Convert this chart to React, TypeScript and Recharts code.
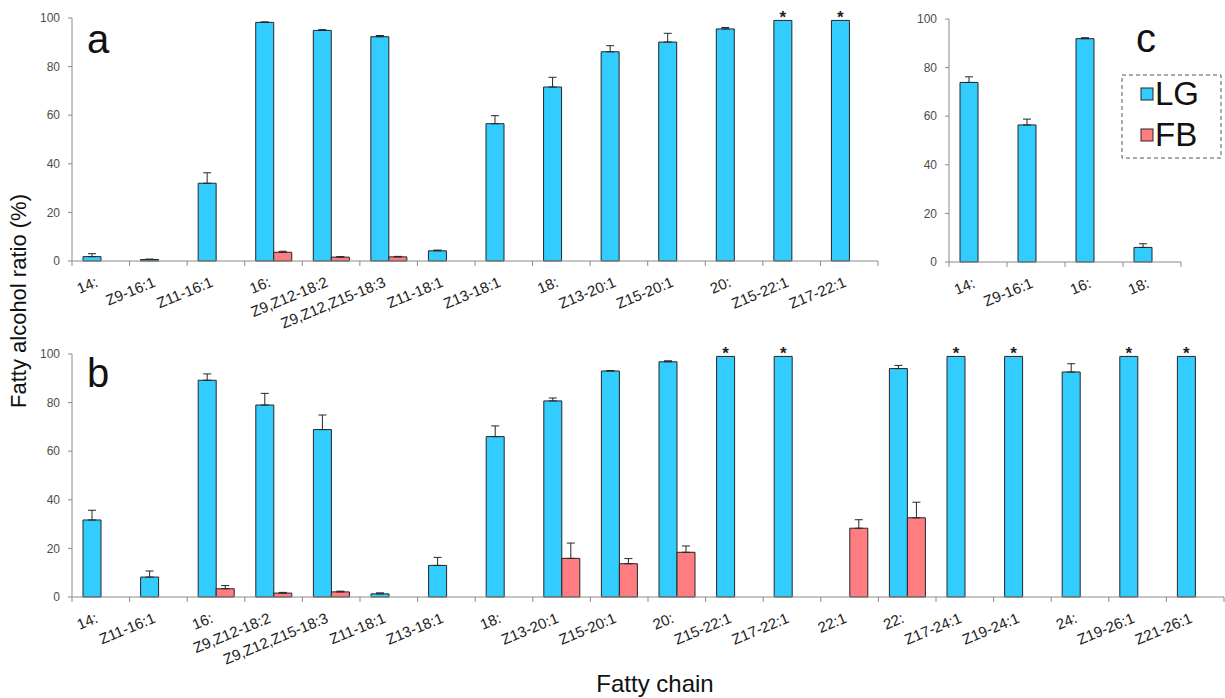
import React from 'react';
import { BarChart, Bar, XAxis, YAxis, ErrorBar, LabelList } from 'recharts';

// panel a
const aCategories = ['14:', 'Z9-16:1', 'Z11-16:1', '16:', 'Z9,Z12-18:2', 'Z9,Z12,Z15-18:3', 'Z11-18:1', 'Z13-18:1', '18:', 'Z13-20:1', 'Z15-20:1', '20:', 'Z15-22:1', 'Z17-22:1'];
const aLG = [1.8, 0.6, 32.0, 98.2, 94.9, 92.3, 4.2, 56.5, 71.6, 86.1, 90.1, 95.5, 99, 99];
const aLGErr = [1.2, 0.2, 4.3, 0.2, 0.3, 0.5, 0.3, 3.3, 4.0, 2.5, 3.6, 0.6, null, null];
const aFB = [null, null, null, 3.6, 1.6, 1.7, null, null, null, null, null, null, null, null];
const aFBErr = [null, null, null, 0.4, 0.2, 0.2, null, null, null, null, null, null, null, null];
const aStarred = ['Z15-22:1', 'Z17-22:1'];

// panel b
const bCategories = ['14:', 'Z11-16:1', '16:', 'Z9,Z12-18:2', 'Z9,Z12,Z15-18:3', 'Z11-18:1', 'Z13-18:1', '18:', 'Z13-20:1', 'Z15-20:1', '20:', 'Z15-22:1', 'Z17-22:1', '22:1', '22:', 'Z17-24:1', 'Z19-24:1', '24:', 'Z19-26:1', 'Z21-26:1'];
const bLG = [31.7, 8.2, 89.2, 79.0, 68.9, 1.3, 13.0, 66.0, 80.7, 93.0, 96.8, 99, 99, null, 94.0, 99, 99, 92.6, 99, 99];
const bLGErr = [4.0, 2.5, 2.6, 4.8, 6.0, 0.4, 3.3, 4.4, 1.2, 0.2, 0.4, null, null, null, 1.3, null, null, 3.4, null, null];
const bFB = [null, null, 3.4, 1.6, 2.1, null, null, null, 15.9, 13.7, 18.4, null, null, 28.3, 32.6, null, null, null, null, null];
const bFBErr = [null, null, 1.3, 0.3, 0.3, null, null, null, 6.3, 2.1, 2.6, null, null, 3.5, 6.4, null, null, null, null, null];
const bStarred = ['Z15-22:1', 'Z17-22:1', 'Z17-24:1', 'Z19-24:1', 'Z19-26:1', 'Z21-26:1'];

// panel c
const cCategories = ['14:', 'Z9-16:1', '16:', '18:'];
const cLG = [73.9, 56.4, 91.9, 6.0];
const cLGErr = [2.3, 2.4, 0.4, 1.5];

const yTicks = [0, 20, 40, 60, 80, 100];

const LG_COLOR = '#33CCFF';
const FB_COLOR = '#FF7C80';
const AXIS = '#8a8a8a';
const FONT = 'Arial, "Liberation Sans", sans-serif';

const toRows = (
  cats: string[],
  lg: (number | null)[],
  lgErr: (number | null)[],
  fb: (number | null)[],
  fbErr: (number | null)[],
  starred: string[],
) =>
  cats.map((name, i) => ({
    name,
    lg: lg[i],
    lgErr: lgErr[i] == null ? null : [0, lgErr[i]],
    fb: fb[i],
    fbErr: fbErr[i] == null ? null : [0, fbErr[i]],
    star: starred.includes(name) ? '*' : '',
  }));

const empty = (cats: string[]) => cats.map(() => null);

const aData = toRows(aCategories, aLG, aLGErr, aFB, aFBErr, aStarred);
const bData = toRows(bCategories, bLG, bLGErr, bFB, bFBErr, bStarred);
const cData = toRows(cCategories, cLG, cLGErr, empty(cCategories), empty(cCategories), []);

// ticks sit on category boundaries, labels rotated under the centre
const makeTick = (band: number, count: number) => (props: any) => {
  const { x, y, payload, index } = props;
  const lx = x - 2;
  const ly = y + 25;
  return (
    <g>
      <line x1={x - band / 2} x2={x - band / 2} y1={y} y2={y + 5} stroke={AXIS} />
      {index === count - 1 && (
        <line x1={x + band / 2} x2={x + band / 2} y1={y} y2={y + 5} stroke={AXIS} />
      )}
      <text
        x={lx}
        y={ly}
        transform={`rotate(-22.5, ${lx}, ${ly})`}
        textAnchor="end"
        fontSize={15}
        fontFamily={FONT}
        fill="#222"
      >
        {payload.value}
      </text>
    </g>
  );
};

const Star = (props: any) => {
  const { x, y, width, value } = props;
  if (!value) return null;
  return (
    <text x={x + width / 2} y={y + 3} textAnchor="middle" fontSize={17} fontWeight="bold" fontFamily={FONT} fill="#222">
      *
    </text>
  );
};

interface PanelProps {
  data: any[];
  width: number;
  height: number;
  top: number;
  left: number;
  marginTop: number;
  marginRight: number;
  yWidth: number;
  xHeight: number;
}

const Panel: React.FC<PanelProps> = ({ data, width, height, top, left, marginTop, marginRight, yWidth, xHeight }) => {
  const band = (width - yWidth - marginRight) / data.length;
  return (
    <div style={{ position: 'absolute', top, left }}>
      <BarChart
        width={width}
        height={height}
        data={data}
        margin={{ top: marginTop, right: marginRight, bottom: 0, left: 0 }}
        barGap={0}
        barSize={18}
      >
        <XAxis
          dataKey="name"
          interval={0}
          height={xHeight}
          tickLine={false}
          tickSize={0}
          tickMargin={0}
          axisLine={{ stroke: AXIS }}
          tick={makeTick(band, data.length)}
        />
        <YAxis
          domain={[0, 100]}
          ticks={yTicks}
          width={yWidth}
          tickSize={4}
          tickMargin={8}
          axisLine={{ stroke: AXIS }}
          tickLine={{ stroke: AXIS }}
          tick={{ fontSize: 12, fill: '#4d4d4d', fontFamily: FONT }}
        />
        <Bar dataKey="lg" fill={LG_COLOR} stroke="#262626" strokeWidth={1} isAnimationActive={false}>
          <ErrorBar dataKey="lgErr" width={4} stroke="#262626" strokeWidth={1} direction="y" />
          <LabelList dataKey="star" content={Star} />
        </Bar>
        <Bar dataKey="fb" fill={FB_COLOR} stroke="#262626" strokeWidth={1} isAnimationActive={false}>
          <ErrorBar dataKey="fbErr" width={4} stroke="#262626" strokeWidth={1} direction="y" />
        </Bar>
      </BarChart>
    </div>
  );
};

export default function App() {
  return (
    <div style={{ position: 'absolute', left: 0, top: 0, width: 1225, height: 698, background: '#fff', fontFamily: FONT }}>
      <Panel data={aData} width={880} height={340} top={0} left={0} marginTop={18} marginRight={2} yWidth={72} xHeight={79} />
      <Panel data={cData} width={345} height={340} top={0} left={880} marginTop={19} marginRight={44} yWidth={69} xHeight={78} />
      <Panel data={bData} width={1225} height={358} top={340} left={0} marginTop={14} marginRight={1} yWidth={72} xHeight={101} />
      <svg width={1225} height={698} style={{ position: 'absolute', left: 0, top: 0, pointerEvents: 'none' }} fontFamily={FONT}>
        <text x={87} y={53} fontSize={40} fill="#111">a</text>
        <text x={87} y={387} fontSize={40} fill="#111">b</text>
        <text x={1136} y={52} fontSize={40} fill="#111">c</text>
        <text x={26} y={301} fontSize={22} fill="#111" textAnchor="middle" transform="rotate(-90, 26, 301)">
          Fatty alcohol ratio (%)
        </text>
        <text x={655} y={692} fontSize={24} fill="#111" textAnchor="middle">Fatty chain</text>
        <rect x={1122} y={75} width={99} height={83} fill="#fff" stroke="#555" strokeDasharray="4 3" />
        <rect x={1141} y={88} width={12} height={12} fill={LG_COLOR} stroke="#262626" />
        <text x={1155} y={105} fontSize={33} fill="#111">LG</text>
        <rect x={1141} y={129} width={12} height={12} fill={FB_COLOR} stroke="#262626" />
        <text x={1155} y={146} fontSize={33} fill="#111">FB</text>
      </svg>
    </div>
  );
}
